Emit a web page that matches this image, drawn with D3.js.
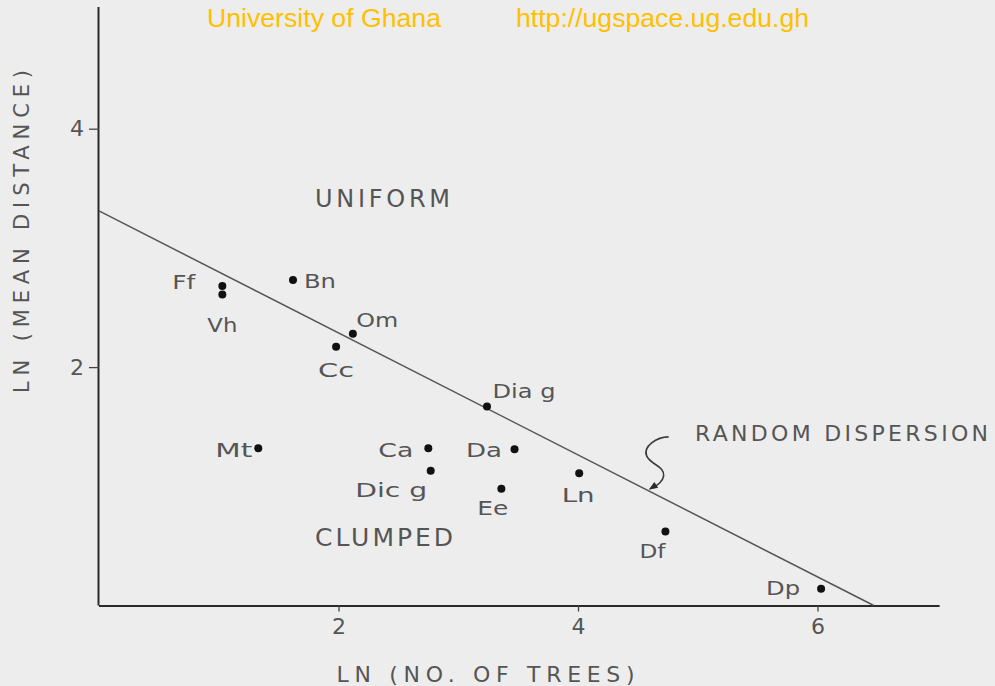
<!DOCTYPE html>
<html>
<head>
<meta charset="utf-8">
<script src="https://cdn.jsdelivr.net/npm/d3@7"></script>
<style>
  html, body { margin: 0; padding: 0; background: #eeeded; }
  svg { display: block; }
  text { font-family: "DejaVu Sans", sans-serif; fill: #555; font-weight: normal; }
</style>
</head>
<body>
<svg id="chart" width="995" height="686"></svg>
<script>
// Species codes with ln(number of trees) and ln(mean nearest-neighbour distance)
const species    = ["Ff", "Vh", "Bn", "Om", "Cc", "Mt", "Ca", "Dic g", "Dia g", "Da", "Ee", "Ln", "Df", "Dp"];
const lnTrees    = [1.03, 1.03, 1.62, 2.12, 1.98, 1.33, 2.75, 2.77, 3.24, 3.47, 3.36, 4.01, 4.73, 6.03];
const lnMeanDist = [2.68, 2.61, 2.73, 2.28, 2.17, 1.32, 1.32, 1.13, 1.67, 1.31, 0.98, 1.11, 0.62, 0.14];

// Expected line for a random dispersion: intercept on the y axis and root on the x axis
const randomIntercept = 3.31;
const randomRoot = 6.47;

const xTicks = [2, 4, 6];
const yTicks = [2, 4];

const svg = d3.select("#chart");

const x = d3.scaleLinear().domain([0, 7.02]).range([99, 99 + 7.02 * 119.75]);
const y = d3.scaleLinear().domain([0, 5]).range([605.5, 605.5 - 5 * 119.2]);

// Watermark header
svg.append("text").attr("x", 207).attr("y", 27)
  .style("font-family", "'Liberation Sans', Arial, sans-serif")
  .style("font-size", "25px").style("fill", "#ffc000")
  .attr("textLength", 234).attr("lengthAdjust", "spacingAndGlyphs")
  .text("University of Ghana");
svg.append("text").attr("x", 516).attr("y", 27)
  .style("font-family", "'Liberation Sans', Arial, sans-serif")
  .style("font-size", "25px").style("fill", "#ffc000")
  .attr("textLength", 293).attr("lengthAdjust", "spacingAndGlyphs")
  .text("http://ugspace.ug.edu.gh");

// Axes
const xAxis = svg.append("g").attr("transform", `translate(0,${y(0)})`)
  .call(d3.axisBottom(x).tickValues(xTicks).tickSize(6).tickSizeOuter(0).tickPadding(7).tickFormat(d3.format("d")));
const yAxis = svg.append("g").attr("transform", `translate(${x(0)},0)`)
  .call(d3.axisLeft(y).tickValues(yTicks).tickSize(10).tickSizeOuter(0).tickPadding(5).tickFormat(d3.format("d")));

[xAxis, yAxis].forEach(a => {
  a.select(".domain").attr("stroke", "#2a2a2a").attr("stroke-width", 2);
  a.selectAll(".tick line").attr("stroke", "#444").attr("stroke-width", 1.3);
  a.selectAll(".tick text")
    .style("font-family", "'DejaVu Sans', sans-serif")
    .style("font-size", "22px")
    .attr("fill", "#555");
});
// x axis extends to the right end of the plotting area
xAxis.select(".domain").attr("d", `M${x(0)},0.5H${x(7.02)}`);
yAxis.select(".domain").attr("d", `M-0.5,${y(0)}V${y(5.02)}`);

// Axis titles
svg.append("text")
  .attr("x", 336.5).attr("y", 681.5)
  .style("font-size", "22px")
  .attr("textLength", 298).attr("lengthAdjust", "spacing")
  .text("LN (NO. OF TREES)");
svg.append("text")
  .attr("transform", "translate(28.5,231.5) rotate(-90)")
  .attr("text-anchor", "middle")
  .style("font-size", "21px")
  .attr("textLength", 323).attr("lengthAdjust", "spacing")
  .text("LN (MEAN DISTANCE)");

// Random-dispersion reference line
svg.append("line")
  .attr("x1", x(0)).attr("y1", y(randomIntercept))
  .attr("x2", x(randomRoot)).attr("y2", y(0))
  .attr("stroke", "#555").attr("stroke-width", 1.5);

// Region labels
svg.append("text").attr("x", 315).attr("y", 206.5)
  .style("font-size", "24px")
  .attr("textLength", 135).attr("lengthAdjust", "spacing").text("UNIFORM");
svg.append("text").attr("x", 315).attr("y", 545.5)
  .style("font-size", "25px")
  .attr("textLength", 138).attr("lengthAdjust", "spacing").text("CLUMPED");
svg.append("text").attr("x", 695).attr("y", 441)
  .style("font-size", "22px")
  .attr("textLength", 293).attr("lengthAdjust", "spacing").text("RANDOM DISPERSION");

// Curly pointer from the annotation to the line
const tipX = 4.59;
const tip = [x(tipX), y(randomIntercept * (1 - tipX / randomRoot)) - 1];
const pointer = svg.append("g").attr("transform", `translate(${tip[0]},${tip[1]})`);
pointer.append("path")
  .attr("d", "M20,-53 C8,-53 -6,-43 -2,-34 C2,-25 16,-24 15,-14 C14,-8 9,-5 4,-2")
  .attr("fill", "none").attr("stroke", "#3a3a3a").attr("stroke-width", 1.6);
pointer.append("path")
  .attr("d", "M0,0 L9.5,-2 L5.7,-7.8 Z")
  .attr("fill", "#2a2a2a");

// Species points
const pts = species.map((s, i) => ({ name: s, x: lnTrees[i], y: lnMeanDist[i] }));
svg.append("g").selectAll("circle").data(pts).join("circle")
  .attr("cx", d => x(d.x)).attr("cy", d => y(d.y))
  .attr("r", 4).attr("fill", "#111");

// Label placement around each point: offset, anchor and lettered width
const labelLayout = {
  "Ff":    { dx: -27, dy: 2.5,  anchor: "end",    w: 23 },
  "Vh":    { dx: 0,   dy: 37.5, anchor: "middle", w: 30 },
  "Bn":    { dx: 11,  dy: 8,    anchor: "start",  w: 32 },
  "Om":    { dx: 3.5, dy: -6.5, anchor: "start",  w: 42 },
  "Cc":    { dx: 0,   dy: 30,   anchor: "middle", w: 36 },
  "Mt":    { dx: -6,  dy: 8.5,  anchor: "end",    w: 37 },
  "Ca":    { dx: -15, dy: 8.5,  anchor: "end",    w: 35 },
  "Dic g": { dx: -3.5, dy: 26,  anchor: "end",    w: 72 },
  "Dia g": { dx: 5.5, dy: -8.5, anchor: "start",  w: 63 },
  "Da":    { dx: -12.5, dy: 7.5, anchor: "end",   w: 36 },
  "Ee":    { dx: -8.5, dy: 26.5, anchor: "middle", w: 31 },
  "Ln":    { dx: -1,  dy: 29,   anchor: "middle", w: 33 },
  "Df":    { dx: -13, dy: 26,   anchor: "middle", w: 26 },
  "Dp":    { dx: -21, dy: 6,    anchor: "end",    w: 34 }
};

svg.append("g").selectAll("text").data(pts).join("text")
  .attr("x", d => x(d.x) + labelLayout[d.name].dx)
  .attr("y", d => y(d.y) + labelLayout[d.name].dy)
  .attr("text-anchor", d => labelLayout[d.name].anchor)
  .attr("textLength", d => labelLayout[d.name].w)
  .attr("lengthAdjust", "spacingAndGlyphs")
  .style("font-size", "20px")
  .text(d => d.name);
</script>
</body>
</html>
